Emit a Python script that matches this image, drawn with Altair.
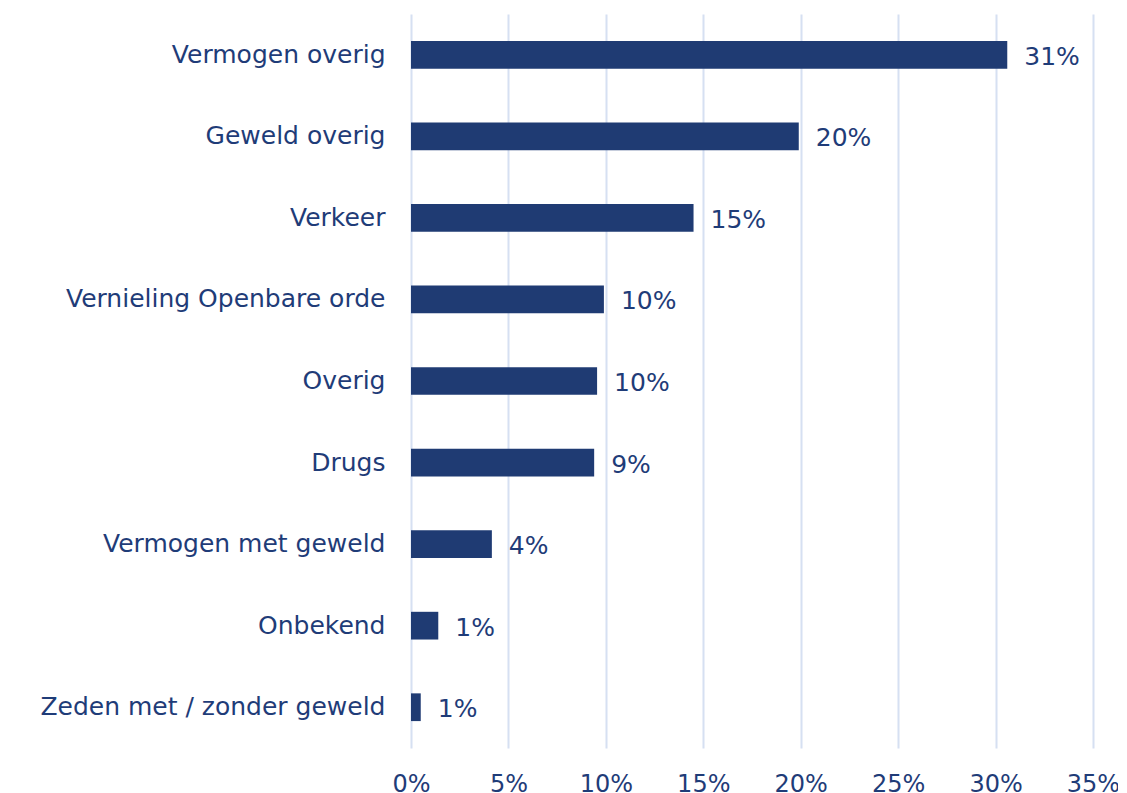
import altair as alt
import pandas as pd

categories = ["Vermogen overig", "Geweld overig", "Verkeer", "Vernieling Openbare orde",
              "Overig", "Drugs", "Vermogen met geweld", "Onbekend", "Zeden met / zonder geweld"]
values = [30.6, 19.9, 14.5, 9.9, 9.55, 9.4, 4.15, 1.4, 0.5]
labels = ["31%", "20%", "15%", "10%", "10%", "9%", "4%", "1%", "1%"]

df = pd.DataFrame({"cat": categories, "val": [v / 100 for v in values], "lbl": labels})

NAVY = "#1F3B73"
TXT = "#1F3C78"
FONT = "DejaVu Sans"
FS = 25

y = alt.Y("cat:N", sort=categories, title=None,
          scale=alt.Scale(paddingInner=0.66, paddingOuter=0.33),
          axis=alt.Axis(domain=False, ticks=False, labelFontSize=FS, labelColor=TXT,
                        labelFont=FONT, labelPadding=26, labelLimit=500))
x = alt.X("val:Q", title=None,
          scale=alt.Scale(domain=[0, 0.35], nice=False),
          axis=alt.Axis(format=".0%", values=[0, 0.05, 0.1, 0.15, 0.2, 0.25, 0.3, 0.35],
                        domain=False, ticks=False, labelFontSize=24, labelColor=TXT,
                        labelFont=FONT, labelPadding=24, labelFlush=False, labelBound=False,
                        labelOverlap=False,
                        grid=True, gridColor="#D6E0F2", gridWidth=2))

bars = alt.Chart(df).mark_bar(color=NAVY).encode(x=x, y=y)
text = alt.Chart(df).mark_text(align="left", dx=17, dy=2, fontSize=FS, color=TXT, font=FONT).encode(
    x="val:Q", y=alt.Y("cat:N", sort=categories), text="lbl:N")

chart = (bars + text).properties(
    width=682, height=734,
    autosize=alt.AutoSizeParams(type="none"),
    padding={"left": 403, "top": 6, "right": 25, "bottom": 50},
).configure_view(stroke=None)

chart.save("out.html", embed_options={"renderer": "svg", "actions": False})
